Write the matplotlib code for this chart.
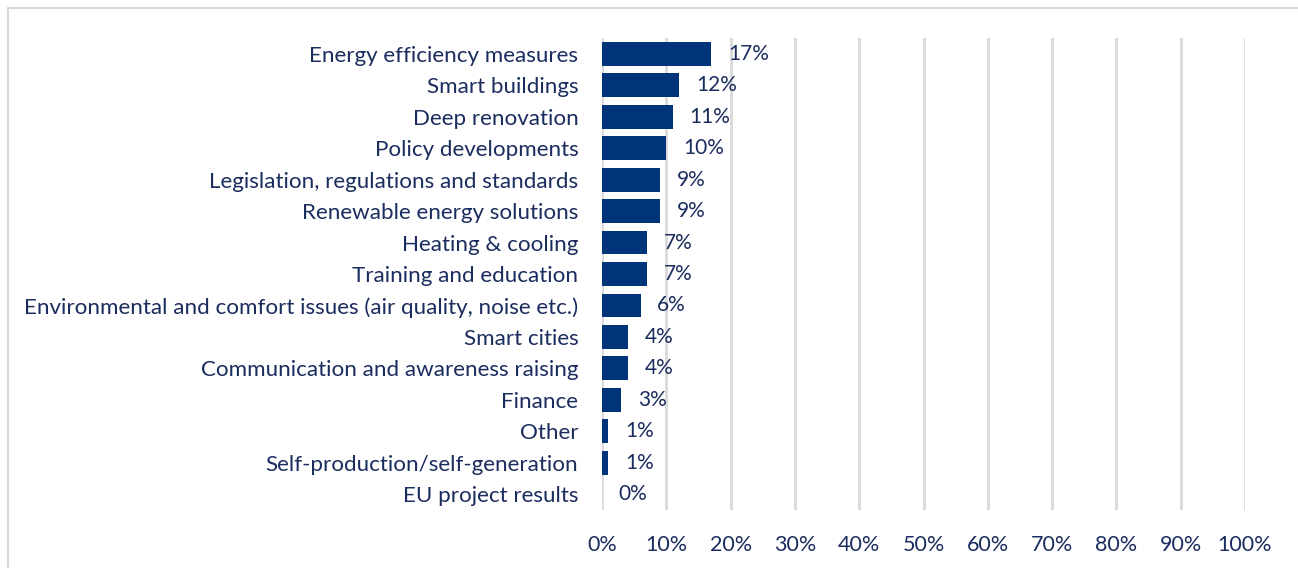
import matplotlib
matplotlib.use("Agg")
import matplotlib.pyplot as plt
from matplotlib.lines import Line2D
from matplotlib.ticker import FuncFormatter

categories = [
    "Energy efficiency measures",
    "Smart buildings",
    "Deep renovation",
    "Policy developments",
    "Legislation, regulations and standards",
    "Renewable energy solutions",
    "Heating & cooling",
    "Training and education",
    "Environmental and comfort issues (air quality, noise etc.)",
    "Smart cities",
    "Communication and awareness raising",
    "Finance",
    "Other",
    "Self-production/self-generation",
    "EU project results",
]
values = [17, 12, 11, 10, 9, 9, 7, 7, 6, 4, 4, 3, 1, 1, 0]
xticks = [0, 10, 20, 30, 40, 50, 60, 70, 80, 90, 100]

bar_color = "#003478"
text_color = "#1b2c5e"
grid_color = "#d9d9d9"

plt.rcParams['font.family'] = ['Lato', 'DejaVu Sans']

fig = plt.figure(figsize=(12.98, 5.68), dpi=100)
ax = fig.add_axes([602/1298, 1-510/568, (1245-602)/1298, (510-38)/568])

y = list(range(len(categories)))
ax.barh(y, values, height=0.76, color=bar_color, zorder=3)
for yi, v in zip(y, values):
    ax.annotate(f"{v}%", xy=(v, yi), xytext=(12, 0), textcoords="offset points",
                ha="left", va="center", fontsize=15, color=text_color, zorder=4)

ax.set_xlim(0, 100)
ax.set_ylim(len(categories) - 0.5, -0.5)
ax.set_yticks(y)
ax.set_yticklabels(categories, fontsize=16.1, color=text_color)
ax.set_xticks(xticks)
ax.xaxis.set_major_formatter(FuncFormatter(lambda x, p: f"{int(x)}%"))
ax.tick_params(axis="x", labelsize=15.5, labelcolor=text_color, length=0, pad=18)
ax.tick_params(axis="y", length=0, pad=17)
ax.grid(axis="x", color=grid_color, linewidth=2, zorder=0)
ax.grid(axis="y", visible=False)
for s in ax.spines.values():
    s.set_visible(False)

# outer frame (partially visible)
fig.add_artist(Line2D([8/1298, 8/1298], [0, 1-8/568], transform=fig.transFigure,
                      color=grid_color, linewidth=1.5))
fig.add_artist(Line2D([8/1298, 1], [1-8/568, 1-8/568], transform=fig.transFigure,
                      color=grid_color, linewidth=1.5))

fig.savefig("out.png", dpi=100, facecolor="white")
